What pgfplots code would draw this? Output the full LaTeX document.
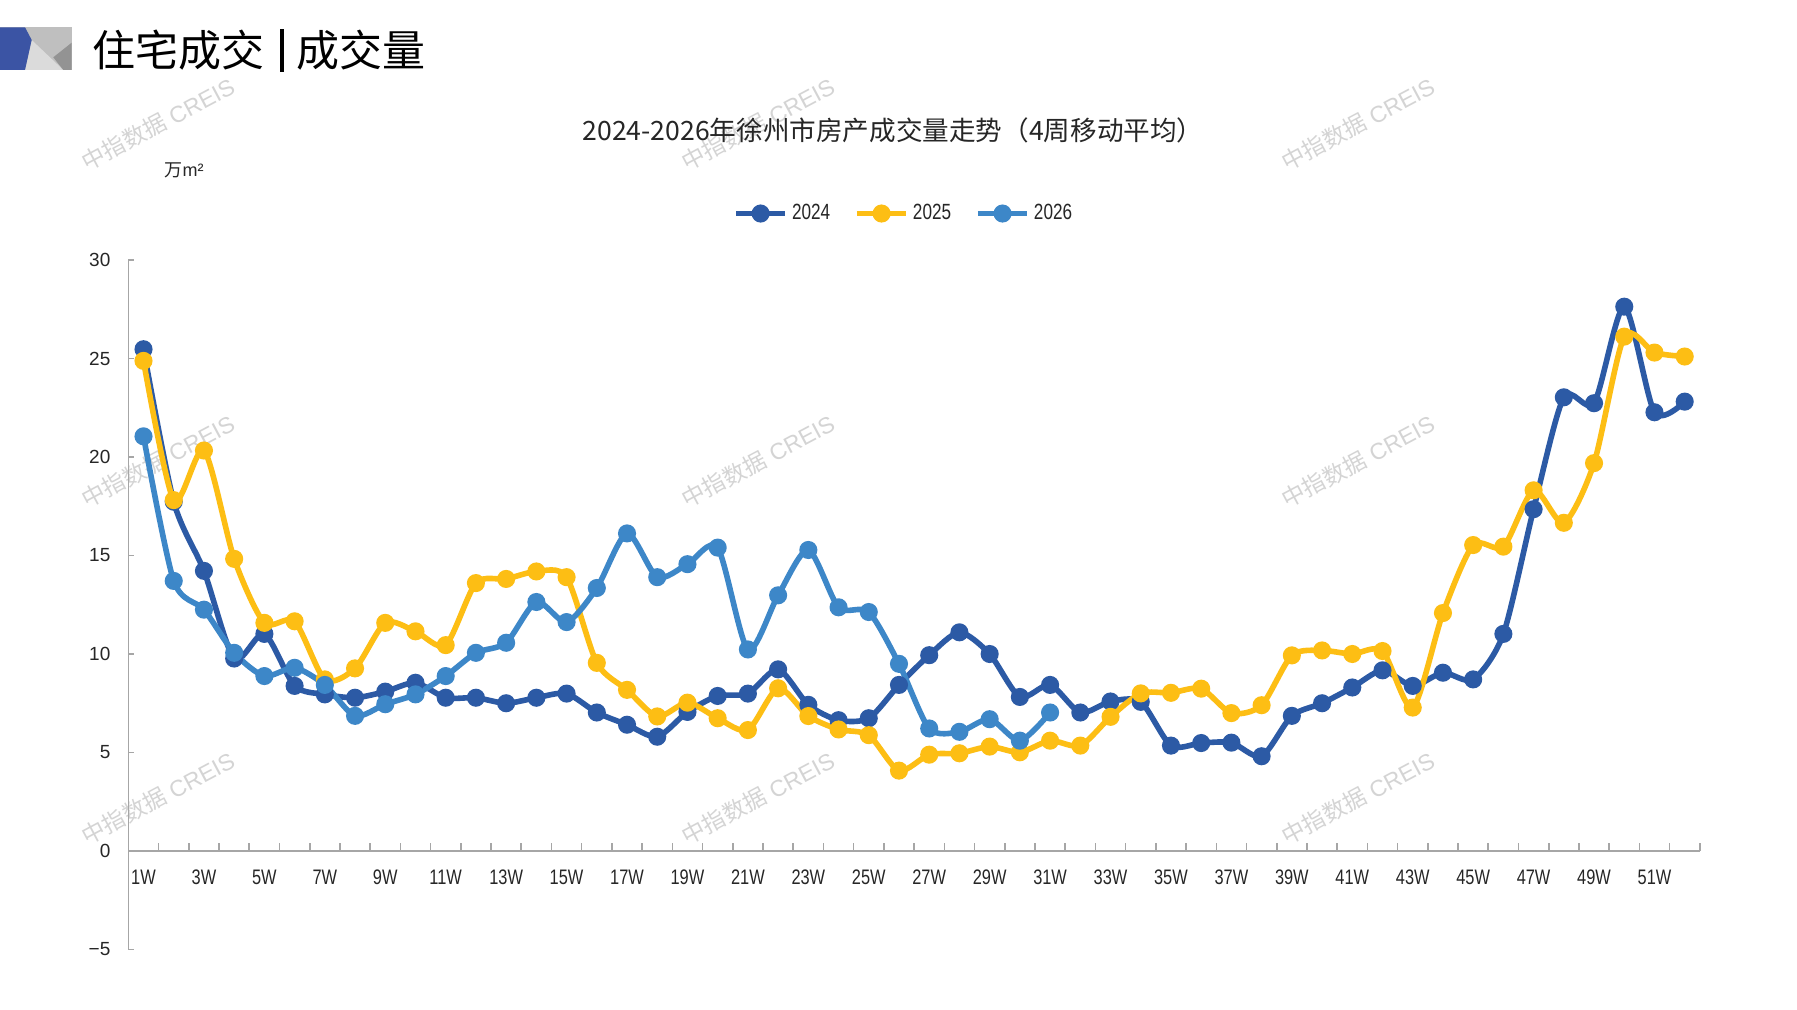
\documentclass[border=0pt]{standalone}
\usepackage{fontspec}
\usepackage{pgfplots}
\pgfplotsset{compat=1.18}
\setmainfont{Liberation Sans}
\newfontfamily\cjk{Noto Sans CJK SC}
\newfontfamily\narrow[FakeStretch=0.78]{Liberation Sans}
\definecolor{cA}{RGB}{44,90,165}
\definecolor{cB}{RGB}{253,190,20}
\definecolor{cC}{RGB}{61,135,200}
\definecolor{hdrblue}{RGB}{59,84,164}
\definecolor{axgray}{RGB}{166,166,166}
\definecolor{txt}{RGB}{38,38,38}
\definecolor{wm}{RGB}{212,212,212}

\pgfplotstableread{
w v
1 25.47
2 17.73
3 14.22
4 9.77
5 11.02
6 8.38
7 7.95
8 7.78
9 8.09
10 8.54
11 7.78
12 7.78
13 7.50
14 7.78
15 7.99
16 7.03
17 6.41
18 5.80
19 7.06
20 7.87
21 7.99
22 9.22
23 7.42
24 6.64
25 6.74
26 8.43
27 9.94
28 11.10
29 10.00
30 7.82
31 8.43
32 7.03
33 7.59
34 7.57
35 5.35
36 5.48
37 5.50
38 4.81
39 6.86
40 7.50
41 8.30
42 9.17
43 8.38
44 9.05
45 8.71
46 11.02
47 17.35
48 23.03
49 22.73
50 27.63
51 22.27
52 22.81
}\dataA

\pgfplotstableread{
w v
1 24.88
2 17.81
3 20.33
4 14.83
5 11.58
6 11.66
7 8.71
8 9.27
9 11.58
10 11.15
11 10.45
12 13.60
13 13.81
14 14.19
15 13.90
16 9.55
17 8.18
18 6.83
19 7.53
20 6.74
21 6.14
22 8.26
23 6.85
24 6.17
25 5.88
26 4.08
27 4.89
28 4.96
29 5.30
30 5.01
31 5.60
32 5.35
33 6.81
34 8.00
35 8.03
36 8.24
37 7.00
38 7.40
39 9.93
40 10.18
41 10.00
42 10.15
43 7.28
44 12.08
45 15.53
46 15.45
47 18.31
48 16.66
49 19.69
50 26.11
51 25.30
52 25.10
}\dataB

\pgfplotstableread{
w v
1 21.05
2 13.71
3 12.25
4 10.06
5 8.88
6 9.30
7 8.43
8 6.86
9 7.45
10 7.95
11 8.88
12 10.06
13 10.57
14 12.64
15 11.62
16 13.35
17 16.12
18 13.90
19 14.56
20 15.40
21 10.23
22 12.98
23 15.28
24 12.37
25 12.13
26 9.50
27 6.22
28 6.05
29 6.69
30 5.60
31 7.03
}\dataC

\begin{document}
\begin{tikzpicture}
\useasboundingbox (0,0) rectangle (898.5pt,505pt);
\fill[white] (0,0) rectangle (898.5pt,505pt);
% header graphic
\fill[gray!50] (0,470pt) rectangle (36pt,491.5pt);
\fill[gray!28] (15.85pt,485pt) -- (31.65pt,470pt) -- (12.5pt,470pt) -- cycle;
\fill[gray!85] (26.65pt,476.35pt) -- (35.85pt,483.65pt) -- (35.85pt,470pt) -- (31.65pt,470pt) -- cycle;
\fill[hdrblue] (0,491.35pt) -- (12.5pt,491.35pt) -- (15.85pt,485pt) -- (12.5pt,470pt) -- (0,470pt) -- cycle;
\node[anchor=west, inner sep=0pt, font=\cjk\fontsize{21.5}{24}\selectfont, text=black] at (46pt,480pt) {住宅成交};
\fill[black] (139.8pt,469pt) rectangle (142pt,490.6pt);
\node[anchor=west, inner sep=0pt, font=\cjk\fontsize{21.5}{24}\selectfont, text=black] at (148pt,480pt) {成交量};
% watermarks
\foreach \x in {79pt,379pt,679pt}{
  \foreach \y in {443pt,274.25pt,106pt}{
    \node[rotate=28, text=wm, font=\fontsize{11.5}{13}\selectfont, inner sep=0pt] at (\x,\y) {{\cjk 中指数据} CREIS};
  }
}
% title and unit
\node[font=\cjk\fontsize{13.3}{15}\selectfont, text=txt] at (446.5pt,440pt) {2024-2026年徐州市房产成交量走势（4周移动平均）};
\node[font=\fontsize{9}{11}\selectfont, text=txt, inner sep=0pt] at (92pt,420pt) {{\cjk 万}m²};
\begin{axis}[
  at={(64.2pt,30.25pt)}, anchor=south west,
  scale only axis, width=785.7pt, height=344.75pt,
  xmin=0.5, xmax=52.5, ymin=-5, ymax=30,
  axis x line*=middle, axis y line*=left,
  hide obscured x ticks=false, hide obscured y ticks=false,
  x axis line style={axgray, line width=1.4pt},
  y axis line style={axgray, line width=0.8pt},
  xtick={1,3,5,7,9,11,13,15,17,19,21,23,25,27,29,31,33,35,37,39,41,43,45,47,49,51},
  xticklabels={1W,3W,5W,7W,9W,11W,13W,15W,17W,19W,21W,23W,25W,27W,29W,31W,33W,35W,37W,39W,41W,43W,45W,47W,49W,51W},
  minor xtick={0.5,1.5,...,52.5},
  ytick={-5,0,5,10,15,20,25,30},
  yticklabels={−5,0,5,10,15,20,25,30},
  tick align=inside,
  major x tick style={draw=none},
  minor x tick style={axgray, line width=0.8pt},
  minor tick length=4pt,
  major tick length=3pt,
  y tick style={axgray, line width=0.8pt},
  x tick label style={font=\narrow\fontsize{10.5}{12}\selectfont, text=txt, yshift=-6pt},
  y tick label style={font=\fontsize{9.5}{11}\selectfont, text=txt, xshift=-5.5pt},
  legend style={draw=none, fill=none, at={(0.494,1.0674)}, anchor=center,
    font=\narrow\fontsize{11}{13}\selectfont, text=txt,
    /tikz/every even column/.append style={column sep=10pt},
    /tikz/every odd column/.append style={column sep=0pt},
    inner sep=0pt},
  legend cell align=left,
  legend columns=3,
  legend image code/.code={\draw[#1,mark repeat=2,mark phase=2] plot coordinates {(0pt,0pt) (12.3pt,0pt) (24.6pt,0pt)};},
  every axis plot/.append style={line width=2.8pt, mark=*, mark size=3.1pt, smooth, tension=0.45},
]
\addplot[cA, mark options={fill=cA, draw=cA}] table[x=w,y=v] {\dataA};
\addlegendentry{2024}
\addplot[cB, mark options={fill=cB, draw=cB}] table[x=w,y=v] {\dataB};
\addlegendentry{2025}
\addplot[cC, mark options={fill=cC, draw=cC}] table[x=w,y=v] {\dataC};
\addlegendentry{2026}
\end{axis}
\end{tikzpicture}
\end{document}
